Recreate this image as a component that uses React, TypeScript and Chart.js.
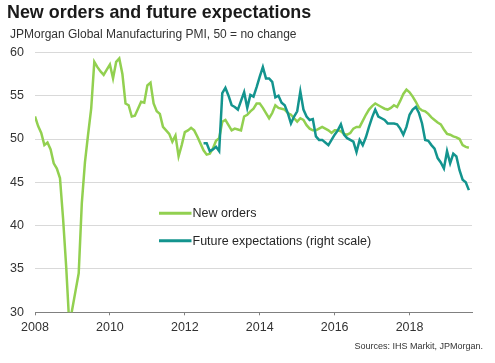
import React, { useEffect, useRef } from "react";
import { Chart, registerables } from "chart.js";

Chart.register(...registerables);

// Monthly, starting Jan 2008
const newOrdersStart = 2008;
const newOrders = [
  52.6, 51.5, 50.7, 49.3, 49.6, 48.8, 47.2, 46.6, 45.5, 40.8, 35.2, 28.5,
  30.5, 32.5, 34.5, 42.6, 47.3, 50.5, 53.5, 58.9, 58.3, 57.8, 57.4, 58.0,
  58.6, 57.0, 58.9, 59.3, 57.5, 54.1, 53.9, 52.6, 52.7, 53.5, 54.3, 54.2,
  56.2, 56.5, 54.1, 53.2, 52.9, 51.4, 51.0, 50.6, 49.7, 50.4, 48.0, 49.3,
  50.8, 51.0, 51.3, 51.0, 50.3, 49.5, 48.7, 48.2, 48.3, 48.9, 49.8, 50.1,
  52.0, 52.2, 51.6, 51.0, 51.2, 51.1, 51.0, 52.6, 52.8, 53.2, 53.5, 54.1,
  54.1, 53.6, 53.0, 52.4, 53.0, 53.9, 53.6, 53.5, 53.4, 53.0, 52.8, 52.4,
  52.0, 52.4, 52.2, 51.6, 51.2, 51.0, 51.0, 51.2, 51.4, 51.2, 51.0, 50.7,
  51.0, 51.0, 50.9, 50.6, 50.5, 50.7, 51.2, 51.4, 51.4, 52.1, 52.8, 53.4,
  53.8, 54.1, 53.9, 53.7, 53.5, 53.4, 53.6, 53.9, 53.7, 54.4, 55.2, 55.7,
  55.4, 54.9, 54.3, 53.6, 53.3, 53.2, 52.9, 52.5, 52.2, 51.9, 51.7, 51.1,
  50.6, 50.5, 50.3, 50.2, 50.0, 49.3, 49.1, 49.0,
];

// Monthly, starting Jul 2012
const futureStart = 2012 + 6 / 12;
const futureExpectations = [
  49.5, 49.5, 48.6, 48.8, 49.1, 48.6,
  55.3, 55.9, 55.0, 53.9, 53.7, 53.4, 54.4, 55.4, 53.6, 55.1, 54.9, 56.0,
  57.2, 58.3, 57.0, 57.0, 56.6, 54.8, 55.0, 54.2, 53.9, 53.0, 51.8, 52.6,
  53.2, 55.5, 53.4, 52.6, 52.2, 52.3, 50.3, 49.9, 49.9, 49.6, 49.3, 49.9,
  50.5, 51.0, 51.7, 50.5, 50.1, 49.9, 49.7, 48.5, 49.9, 49.3, 50.2, 51.4,
  52.5, 53.4, 52.6, 52.4, 52.2, 51.8, 51.8, 51.8, 51.7, 51.2, 50.5, 51.4,
  52.8, 53.4, 53.7, 53.0, 51.8, 49.9, 49.8, 49.3, 48.9, 47.8, 47.3, 46.6,
  48.6, 47.2, 48.3, 48.0, 46.4, 45.3, 45.0, 44.1,
];

const xTickYears = [2008, 2010, 2012, 2014, 2016, 2018];
const xMin = 2008;
const xMax = 2008 + 140 / 12;
const yMin = 30;
const yMax = 60;
const yStep = 5;

const titleText = "New orders and future expectations";
const subtitleText = "JPMorgan Global Manufacturing PMI, 50 = no change";
const sourceText = "Sources: IHS Markit, JPMorgan.";
const legendLabels = ["New orders", "Future expectations (right scale)"];

const GREEN = "#92d050";
const TEAL = "#13948e";
const FONT = "'Liberation Sans', Arial, sans-serif";

function toPoints(values: number[], start: number) {
  return values.map((v, i) => ({ x: start + i / 12, y: v }));
}

const textPlugin = {
  id: "texts",
  afterDraw(chart: any) {
    const ctx = chart.ctx;
    ctx.save();
    ctx.fillStyle = "#1a1a1a";
    ctx.textBaseline = "alphabetic";
    ctx.textAlign = "left";
    ctx.font = `bold 17.9px ${FONT}`;
    ctx.fillText(titleText, 7, 17.5);
    ctx.fillStyle = "#333333";
    ctx.font = `12px ${FONT}`;
    ctx.fillText(subtitleText, 10, 38);
    ctx.font = `9px ${FONT}`;
    ctx.textAlign = "right";
    ctx.fillText(sourceText, 483, 348.5);

    // legend
    const items = [
      { color: GREEN, label: legendLabels[0], y: 213.3 },
      { color: TEAL, label: legendLabels[1], y: 240.7 },
    ];
    ctx.font = `12.5px ${FONT}`;
    ctx.textAlign = "left";
    ctx.textBaseline = "middle";
    for (const it of items) {
      ctx.strokeStyle = it.color;
      ctx.lineWidth = 3;
      ctx.beginPath();
      ctx.moveTo(159, it.y);
      ctx.lineTo(191.5, it.y);
      ctx.stroke();
      ctx.fillStyle = "#262626";
      ctx.fillText(it.label, 192.5, it.y + 0.5);
    }
    ctx.restore();
  },
};

export default function App() {
  const canvasRef = useRef<HTMLCanvasElement | null>(null);

  useEffect(() => {
    document.body.style.margin = "0";
    const canvas = canvasRef.current!;
    const chart = new Chart(canvas, {
      type: "line",
      data: {
        datasets: [
          {
            label: legendLabels[1],
            data: toPoints(futureExpectations, futureStart),
            borderColor: TEAL,
            borderWidth: 2.5,
            pointRadius: 0,
            tension: 0,
            order: 0,
          },
          {
            label: legendLabels[0],
            data: toPoints(newOrders, newOrdersStart),
            borderColor: GREEN,
            borderWidth: 2.5,
            pointRadius: 0,
            tension: 0,
            order: 1,
          },
        ],
      },
      options: {
        responsive: false,
        animation: false,
        devicePixelRatio: 1,
        layout: { padding: { top: 52.4, right: 23, bottom: 0, left: 0 } },
        plugins: {
          legend: { display: false },
          tooltip: { enabled: false },
          title: { display: false },
        },
        scales: {
          x: {
            type: "linear",
            min: xMin,
            max: xMax,
            afterFit: (s: any) => {
              s.height = 363 - 312.3;
            },
            afterBuildTicks: (s: any) => {
              s.ticks = xTickYears.map((v) => ({ value: v }));
            },
            grid: {
              drawOnChartArea: false,
              drawTicks: true,
              tickLength: 3,
              color: "#808080",
            },
            border: { display: true, color: "#808080", width: 1 },
            ticks: {
              color: "#333333",
              font: { family: FONT, size: 12.5 },
              padding: 5,
              maxRotation: 0,
              autoSkip: false,
              callback: (v: any) => String(v),
            },
          },
          y: {
            type: "linear",
            min: yMin,
            max: yMax,
            afterFit: (s: any) => {
              s.width = 35;
            },
            grid: {
              drawTicks: false,
              color: (c: any) => (c.tick && c.tick.value === yMin ? "rgba(0,0,0,0)" : "#d9d9d9"),
              lineWidth: 1,
            },
            border: { display: false },
            ticks: {
              stepSize: yStep,
              color: "#333333",
              font: { family: FONT, size: 12.5 },
              padding: 11,
            },
          },
        },
      },
      plugins: [textPlugin],
    } as any);
    return () => chart.destroy();
  }, []);

  return (
    <div style={{ position: "absolute", left: 0, top: 0, width: 495, height: 363, background: "#fff" }}>
      <canvas ref={canvasRef} width={495} height={363} />
    </div>
  );
}
